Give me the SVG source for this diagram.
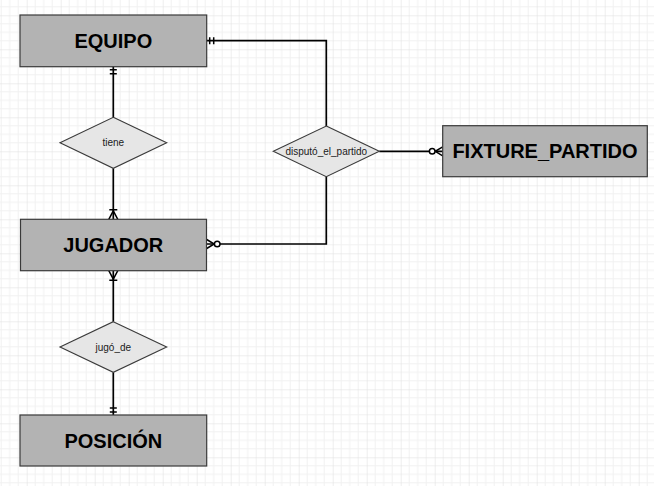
<svg xmlns="http://www.w3.org/2000/svg" width="654" height="486" viewBox="0 0 654 486">
<defs>
<style>
.ent{fill:#b3b3b3;stroke:#3a3a3a;stroke-width:1.2}
.rel{fill:#e6e6e6;stroke:#3a3a3a;stroke-width:1.1}
.et{font-family:"Liberation Sans",Arial,sans-serif;font-weight:bold;font-size:20px;fill:#000;text-anchor:middle;dominant-baseline:central}
.rt{font-family:"Liberation Sans",Arial,sans-serif;font-size:10px;fill:#1a1a1a;text-anchor:middle;dominant-baseline:central}
.con{fill:none;stroke:#000;stroke-width:1.7}
.mk{fill:none;stroke:#000;stroke-width:1.5}
</style>
<pattern id="grid" patternUnits="userSpaceOnUse" x="26.7" y="15.3" width="34" height="34">
<path d="M8.5 0V34M17 0V34M25.5 0V34M0 8.5H34M0 17H34M0 25.5H34" stroke="#f1f1f1" stroke-width="1" fill="none"/>
<path d="M0 0V34M0 0H34" stroke="#dedede" stroke-width="1" fill="none"/>
</pattern>
<marker id="mandOne" markerUnits="userSpaceOnUse" viewBox="-14 -7 16 14" refX="0" refY="0" markerWidth="16" markerHeight="14" orient="auto" overflow="visible">
<path class="mk" d="M-3 -3.5V3.5M-7 -3.5V3.5"/>
</marker>
<marker id="oneMany" markerUnits="userSpaceOnUse" viewBox="-14 -7 16 14" refX="0" refY="0" markerWidth="16" markerHeight="14" orient="auto" overflow="visible">
<path class="mk" d="M-9.5 -4V4M0 -4.5L-8.5 0L0 4.5"/>
</marker>
<marker id="zeroMany" markerUnits="userSpaceOnUse" viewBox="-16 -7 18 14" refX="0" refY="0" markerWidth="18" markerHeight="14" orient="auto" overflow="visible">
<path class="mk" d="M0 -4.5L-7.5 0L0 4.5"/>
<circle cx="-10.5" cy="0" r="2.8" fill="#fff" stroke="#000" stroke-width="1.5"/>
</marker>
</defs>
<rect width="654" height="486" fill="#fff"/>
<rect width="654" height="486" fill="url(#grid)"/>
<g id="connectors">
<path class="con" d="M113.3 117.3V66.7" marker-end="url(#mandOne)"/>
<path class="con" d="M113.3 168.3V219.3" marker-end="url(#oneMany)"/>
<path class="con" d="M113.3 321.7V270.7" marker-end="url(#oneMany)"/>
<path class="con" d="M113.3 372.3V415" marker-end="url(#mandOne)"/>
<path class="con" d="M326.3 126V40.7H206.7" marker-end="url(#mandOne)"/>
<path class="con" d="M326.3 176.7V244H206.7" marker-end="url(#zeroMany)"/>
<path class="con" d="M379.3 151.3H442.7" marker-end="url(#zeroMany)"/>
</g>
<g id="EQUIPO">
<rect class="ent" x="20" y="15" width="186.7" height="51.7"/>
<text class="et" x="113.3" y="41">EQUIPO</text>
</g>
<g id="JUGADOR">
<rect class="ent" x="20.5" y="219.3" width="186" height="51.4"/>
<text class="et" x="113.3" y="245">JUGADOR</text>
</g>
<g id="POSICION">
<rect class="ent" x="20" y="415" width="186.7" height="51"/>
<text class="et" x="113.3" y="440.5">POSICIÓN</text>
</g>
<g id="FIXTURE_PARTIDO">
<rect class="ent" x="442.7" y="125.7" width="204.6" height="51"/>
<text class="et" x="545" y="151.3">FIXTURE_PARTIDO</text>
</g>
<g id="tiene">
<path class="rel" d="M113.3 117.3L166.7 142.8L113.3 168.3L60 142.8Z"/>
<text class="rt" x="113.3" y="142.8">tiene</text>
</g>
<g id="jugo_de">
<path class="rel" d="M113.3 321.7L166.7 347L113.3 372.3L60 347Z"/>
<text class="rt" x="113.3" y="347">jugó_de</text>
</g>
<g id="disputo_el_partido">
<path class="rel" d="M326.3 126L379.3 151.3L326.3 176.7L273.3 151.3Z"/>
<text class="rt" x="326.3" y="151.3">disputó_el_partido</text>
</g>
</svg>
